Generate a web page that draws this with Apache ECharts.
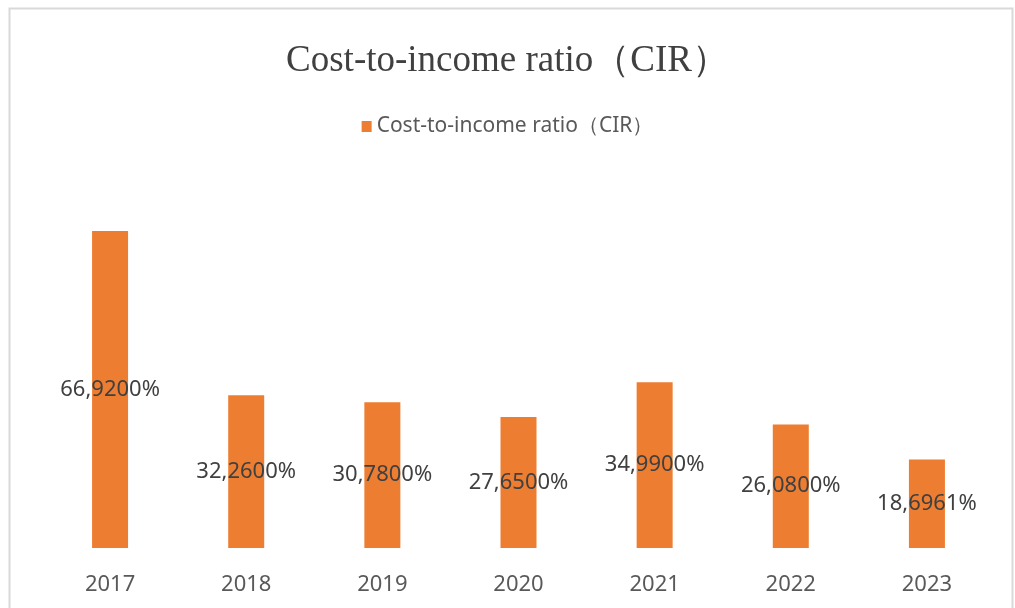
<!DOCTYPE html>
<html>
<head>
<meta charset="utf-8">
<script src="https://cdn.jsdelivr.net/npm/echarts@6/dist/echarts.min.js"></script>
<style>
  html, body { margin: 0; padding: 0; background: #fff; }
  #chart { width: 1015px; height: 608px; }
</style>
</head>
<body>
<div id="chart"></div>
<script>
const years = ['2017', '2018', '2019', '2020', '2021', '2022', '2023'];
const cirValues = [66.92, 32.26, 30.78, 27.65, 34.99, 26.08, 18.6961];
const seriesName = 'Cost-to-income ratio（CIR）';

const chart = echarts.init(document.getElementById('chart'));
chart.setOption({
  backgroundColor: '#ffffff',
  animation: false,
  graphic: [{
    type: 'rect',
    shape: { x: 9.5, y: 8.5, width: 1003, height: 640 },
    style: { fill: 'none', stroke: '#d9d9d9', lineWidth: 2 },
    silent: true
  }],
  title: {
    text: seriesName,
    left: 'center',
    top: 38,
    textStyle: {
      fontFamily: 'Liberation Serif',
      fontWeight: 'normal',
      fontSize: 37,
      color: '#404040'
    }
  },
  legend: {
    top: 111,
    left: 'center',
    itemWidth: 10,
    itemHeight: 11,
    itemGap: 8,
    icon: 'rect',
    textStyle: { fontFamily: 'Noto Sans', fontSize: 21, color: '#595959' },
    data: [seriesName]
  },
  grid: { left: 42, right: 20, top: 169, bottom: 60 },
  xAxis: {
    type: 'category',
    data: years,
    axisLine: { show: false },
    axisTick: { show: false },
    axisLabel: { margin: 26, fontFamily: 'Noto Sans', fontSize: 22, color: '#595959' }
  },
  yAxis: {
    type: 'value',
    min: 0,
    max: 80,
    show: false,
    splitLine: { show: false }
  },
  series: [{
    name: seriesName,
    type: 'bar',
    data: cirValues,
    barWidth: 36,
    itemStyle: { color: '#ED7D31' },
    label: {
      show: true,
      position: 'inside',
      fontFamily: 'Noto Sans',
      fontSize: 22,
      color: '#404040',
      formatter: p => p.value.toFixed(4).replace('.', ',') + '%'
    }
  }]
});
</script>
</body>
</html>
